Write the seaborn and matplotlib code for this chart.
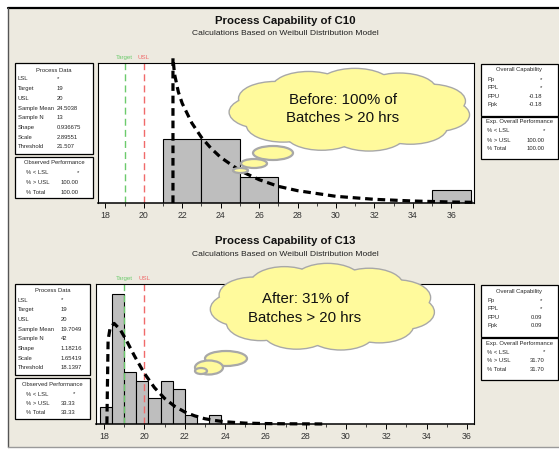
#Process capability charts for C10 (before) and C13 (after)

import numpy as np
import seaborn as sns
import matplotlib.pyplot as plt
from matplotlib.patches import Ellipse, Rectangle

# histogram bins and counts
c10_edges = [21, 23, 25, 27, 29, 31, 33, 35, 37]
c10_counts = [5, 5, 2, 0, 0, 0, 0, 1]
c13_edges = [17.8, 18.4, 19.0, 19.6, 20.2, 20.8, 21.4, 22.0, 22.6, 23.2, 23.8]
c13_counts = [2, 15, 6, 5, 3, 5, 4, 1, 0, 1]

# fitted weibull curves (density)
c10_fit_x = [21.52, 21.52, 21.6, 21.8, 22.0, 22.5, 23.0, 23.5, 24.0, 25.0, 26.0, 27.0,
             28.0, 30.0, 32.0, 34.0, 36.0, 37.2]
c10_fit_y = [0.0, 0.435, 0.387, 0.333, 0.299, 0.240, 0.197, 0.164, 0.137, 0.097, 0.070,
             0.050, 0.037, 0.020, 0.011, 0.006, 0.003, 0.002]
c13_fit_x = [18.14, 18.2, 18.3, 18.5, 18.8, 19.1, 19.5, 20.0, 20.5, 21.0, 21.5, 22.0,
             22.5, 23.0, 23.5, 24.0, 25.0, 26.0, 27.0, 29.0]
c13_fit_y = [0.0, 0.383, 0.439, 0.459, 0.431, 0.383, 0.312, 0.231, 0.166, 0.117, 0.081,
             0.055, 0.037, 0.024, 0.016, 0.010, 0.004, 0.002, 0.001, 0.0001]

target = 19
usl = 20

# table texts
c10_process = [("LSL", "*"), ("Target", "19"), ("USL", "20"), ("Sample Mean", "24.5038"),
               ("Sample N", "13"), ("Shape", "0.936675"), ("Scale", "2.89551"),
               ("Threshold", "21.507")]
c10_observed = [("% < LSL", "*"), ("% > USL", "100.00"), ("% Total", "100.00")]
c10_overall = [("Pp", "*"), ("PPL", "*"), ("PPU", "-0.18"), ("Ppk", "-0.18")]
c10_expected = [("% < LSL", "*"), ("% > USL", "100.00"), ("% Total", "100.00")]

c13_process = [("LSL", "*"), ("Target", "19"), ("USL", "20"), ("Sample Mean", "19.7049"),
               ("Sample N", "42"), ("Shape", "1.18216"), ("Scale", "1.65419"),
               ("Threshold", "18.1397")]
c13_observed = [("% < LSL", "*"), ("% > USL", "33.33"), ("% Total", "33.33")]
c13_overall = [("Pp", "*"), ("PPL", "*"), ("PPU", "0.09"), ("Ppk", "0.09")]
c13_expected = [("% < LSL", "*"), ("% > USL", "31.70"), ("% Total", "31.70")]

W, H = 559, 449
BG = "#EDEAE0"
TBL = 4.2

sns.set_style("white")
plt.rcParams["font.family"] = ["Liberation Sans", "DejaVu Sans"]

fig = plt.figure(figsize=(W / 100, H / 100), dpi=100)
fig.patch.set_facecolor("white")

bg = fig.add_axes([0, 0, 1, 1], zorder=-5)
bg.set_xlim(0, W)
bg.set_ylim(H, 0)
bg.axis("off")
bg.add_patch(Rectangle((8, 8), W, 439, facecolor=BG, edgecolor="none"))
bg.plot([8, W], [8, 8], color="black", lw=1.6)
bg.plot([8, 8], [8, 447], color="#555555", lw=1.0)
bg.plot([8, W], [447, 447], color="#9A9A9A", lw=1.0)

fg = fig.add_axes([0, 0, 1, 1], zorder=10)
fg.set_xlim(0, W)
fg.set_ylim(H, 0)
fg.axis("off")
fg.patch.set_alpha(0)


def px_axes(x0, x1, y0, y1):
    return fig.add_axes([x0 / W, 1 - y1 / H, (x1 - x0) / W, (y1 - y0) / H])


def table(x0, x1, y0, y1, title, rows, row_y, lab_x, val_x, val_ha="left"):
    fg.add_patch(Rectangle((x0, y0), x1 - x0, y1 - y0, facecolor="white",
                           edgecolor="black", lw=0.9))
    fg.text((x0 + x1) / 2, row_y[0], title, ha="center", va="center", fontsize=TBL)
    for (lab, val), y in zip(rows, row_y[1:]):
        fg.text(lab_x, y, lab, ha="left", va="center", fontsize=TBL)
        fg.text(val_x, y, val, ha=val_ha, va="center", fontsize=TBL)


def cloud(cx, cy, rx, ry, tails, lines):
    parts = []
    n = 11
    for i in range(n):
        a = 2 * np.pi * i / n + 0.2
        parts.append(((cx + 0.72 * rx * np.cos(a), cy + 0.60 * ry * np.sin(a)),
                      0.62 * rx, 0.80 * ry))
    parts.append(((cx, cy), 1.6 * rx, 1.4 * ry))
    for c, w, h in parts:
        fg.add_patch(Ellipse(c, w, h, facecolor="#FFFA9C", edgecolor="#A8A8A8", lw=2.0))
    for c, w, h in parts:
        fg.add_patch(Ellipse(c, w, h, facecolor="#FFFA9C", edgecolor="none"))
    for c, w, h in tails:
        fg.add_patch(Ellipse(c, w, h, facecolor="#FFFA9C", edgecolor="#A8A8A8", lw=1.6))
    for t, (tx, ty) in lines:
        fg.text(tx, ty, t, ha="center", va="center", fontsize=10.8, color="#111111")


def panel(y_off, ax_left, xlim, ylim, edges, counts, fit_x, fit_y, name,
          process, observed, overall, expected, pd_val_x, obs_val_x, box_right):
    y0 = 63 + y_off
    ax = px_axes(ax_left, 474, y0, y0 + 140)
    ax.set_facecolor("white")
    centers = [(a + b) / 2 for a, b in zip(edges[:-1], edges[1:])]
    sns.histplot(x=centers, weights=counts, bins=edges, stat="density", ax=ax,
                 color="#BEBEBE", edgecolor="black", linewidth=0.8, alpha=1)
    ax.axvline(target, color="#6CCB6C", lw=1.0, ls=(0, (5, 3)))
    ax.axvline(usl, color="#F06A6A", lw=1.0, ls=(0, (5, 3)))
    sns.lineplot(x=fit_x, y=fit_y, ax=ax, color="black", lw=2.3, sort=False,
                 estimator=None, clip_on=False, linestyle=(0, (2.4, 1.5)))
    ax.set_xlim(*xlim)
    ax.set_ylim(*ylim)
    ax.set_ylabel("")
    ax.set_yticks([])
    ax.set_xticks(np.arange(18, 37, 2))
    ax.set_xticks(np.arange(19, 37, 2), minor=True)
    ax.tick_params(axis="x", which="major", direction="out", length=3.5, width=0.7,
                   labelsize=6.3, pad=2, colors="black", labelcolor="#333333", bottom=True)
    ax.tick_params(axis="x", which="minor", direction="out", length=2, width=0.6, bottom=True)
    for s in ax.spines.values():
        s.set_visible(True)
        s.set_color("black")
        s.set_linewidth(0.8)
    ax.spines["bottom"].set_linewidth(1.1)

    # spec labels above the plot
    to_px = lambda v: ax_left + (v - xlim[0]) / (xlim[1] - xlim[0]) * (474 - ax_left)
    fg.text(to_px(target), y0 - 5.5, "Target", ha="center", va="center",
            fontsize=4.4, color="#6CCB6C")
    fg.text(to_px(usl), y0 - 5.5, "USL", ha="center", va="center",
            fontsize=4.4, color="#F06A6A")

    fg.text(285.5, y0 - 42.5, "Process Capability of " + name, ha="center", va="center",
            fontsize=8.2, fontweight="bold", color="#111111")
    fg.text(285.5, y0 - 29.5, "Calculations Based on Weibull Distribution Model",
            ha="center", va="center", fontsize=6.1, color="#222222")

    table(15, box_right, y0, y0 + 91, "Process Data", process,
          [y0 + 7] + [y0 + 16 + 9.7 * i for i in range(8)], 17.5, pd_val_x)
    table(15, box_right, y0 + 94, y0 + 135, "Observed Performance",
          observed, [y0 + 100, y0 + 110, y0 + 119.5, y0 + 129], 26, obs_val_x, "right")
    table(481, 558, y0 + 1, y0 + 53, "Overall Capability", overall,
          [y0 + 7, y0 + 16.5, y0 + 24.5, y0 + 33.2, y0 + 41.5], 487, 542, "right")
    table(481, 558, y0 + 54, y0 + 96, "Exp. Overall Performance", expected,
          [y0 + 59, y0 + 68, y0 + 77, y0 + 85.7], 487, 545, "right")
    return ax


panel(0, 98, (17.62, 37.18), (0, 0.42), c10_edges, c10_counts, c10_fit_x, c10_fit_y,
      "C10", c10_process, c10_observed, c10_overall, c10_expected, 57, 79, 93)
panel(221, 96, (17.6, 36.35), (0, 0.639), c13_edges, c13_counts, c13_fit_x, c13_fit_y,
      "C13", c13_process, c13_observed, c13_overall, c13_expected, 61, 75, 90)

cloud(350, 110, 117, 41,
      [((273, 153), 40, 14), ((254, 163.5), 26, 9), ((240.5, 170.5), 15, 5)],
      [("Before: 100% of", (343, 100)), ("Batches > 20 hrs", (343, 118))])
cloud(323, 307, 109, 43,
      [((226, 358.5), 42, 15), ((209, 367.5), 28, 14), ((201, 371), 12, 6)],
      [("After: 31% of", (305, 299)), ("Batches > 20 hrs", (305, 318))])

fig.savefig("out.png", dpi=100, facecolor=fig.get_facecolor())
